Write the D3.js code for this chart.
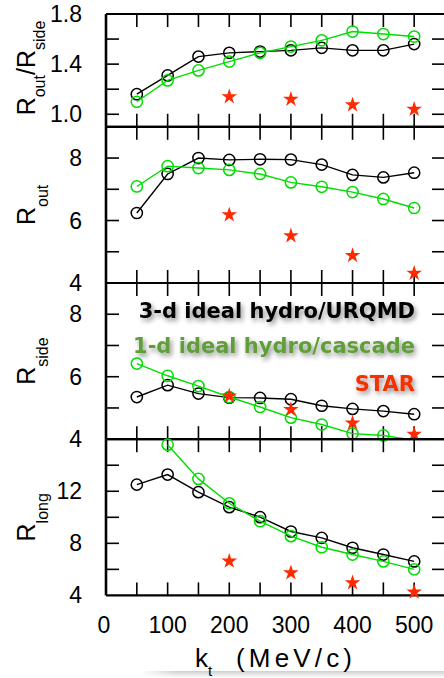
<!DOCTYPE html>
<html>
<head>
<meta charset="utf-8">
<script src="https://cdn.jsdelivr.net/npm/d3@7/dist/d3.min.js"></script>
<style>
  html, body { margin: 0; padding: 0; background: #fff; }
  svg { display: block; }
  .tick-label { font-family: "Liberation Sans", Arial, sans-serif; font-size: 23px; fill: #000; }
  .title { font-family: "Liberation Sans", Arial, sans-serif; fill: #000; }
  .legend { font-family: "DejaVu Sans", Verdana, sans-serif; font-weight: bold; font-size: 21px; }
</style>
</head>
<body>
<svg id="chart" width="444" height="678"></svg>
<script>
// Pair momentum bins (MeV/c)
const kt = [50, 100, 150, 200, 250, 300, 350, 400, 450, 500];
const starKt = [200, 300, 400, 500];

// R_out / R_side
const ratioHydro3d = [1.16, 1.31, 1.46, 1.49, 1.50, 1.51, 1.53, 1.51, 1.51, 1.56];
const ratioHydro1d = [1.10, 1.27, 1.35, 1.42, 1.49, 1.54, 1.59, 1.66, 1.64, 1.62];
const ratioStar    = [1.14, 1.12, 1.075, 1.04];

// R_out (fm)
const routHydro3d = [6.24, 7.49, 8.00, 7.94, 7.96, 7.95, 7.79, 7.46, 7.38, 7.53];
const routHydro1d = [7.09, 7.74, 7.68, 7.62, 7.49, 7.22, 7.08, 6.91, 6.69, 6.40];
const routStar    = [6.18, 5.51, 4.88, 4.31];

// R_side (fm)
const rsideHydro3d = [5.35, 5.73, 5.46, 5.33, 5.32, 5.28, 5.07, 4.97, 4.90, 4.80];
const rsideHydro1d = [6.42, 6.03, 5.70, 5.35, 5.03, 4.69, 4.47, 4.18, 4.12, 3.97];
const rsideStar    = [5.38, 4.95, 4.52, 4.16];

// R_long (fm)
const rlongHydro3d = [12.51, 13.28, 11.93, 10.78, 10.01, 8.91, 8.42, 7.66, 7.14, 6.61];
const rlongHydro1d = [null, 15.58, 12.95, 11.08, 9.70, 8.55, 7.70, 7.14, 6.61, 6.00];
const rlongStar    = [6.63, 5.74, 4.97, 4.25];

// Axis ticks and labels
const xTicks = [50, 100, 150, 200, 250, 300, 350, 400, 450, 500];
const xTickLabels = [0, 100, 200, 300, 400, 500];
const legendLabels = ["3-d ideal hydro/URQMD", "1-d ideal hydro/cascade", "STAR"];

const panels = [
  { name: "ratio", domain: [0.9, 1.8], ticks: [1.0, 1.2, 1.4, 1.6], labels: [1.0, 1.4, 1.8], fmt: d3.format(".1f"),
    title: [["R", 0], ["out", 1], ["/", 0], ["R", 0], ["side", 1]], a: ratioHydro3d, b: ratioHydro1d, s: ratioStar },
  { name: "rout", domain: [4, 9], ticks: [5, 6, 7, 8], labels: [4, 6, 8], fmt: d3.format("d"),
    title: [["R", 0], ["out", 1]], a: routHydro3d, b: routHydro1d, s: routStar },
  { name: "rside", domain: [4, 9], ticks: [5, 6, 7, 8], labels: [4, 6, 8], fmt: d3.format("d"),
    title: [["R", 0], ["side", 1]], a: rsideHydro3d, b: rsideHydro1d, s: rsideStar },
  { name: "rlong", domain: [4, 16], ticks: [6, 8, 10, 12, 14], labels: [4, 8, 12], fmt: d3.format("d"),
    title: [["R", 0], ["long", 1]], a: rlongHydro3d, b: rlongHydro1d, s: rlongStar }
];

const svg = d3.select("#chart");
const left = 106, right = 445;
const panelTops = [14, 126.8, 283, 439.2];
const panelBottoms = [126.8, 283, 439.2, 595.4];

const x = d3.scaleLinear().domain([0, 550]).range([left, right]);

const BLACK = "#000";
const GREEN = "#00dd00";
const RED = "#ff2a00";

const defs = svg.append("defs");
const shadow = defs.append("filter").attr("id", "txtShadow")
  .attr("x", "-10%").attr("y", "-40%").attr("width", "125%").attr("height", "190%");
shadow.append("feDropShadow").attr("dx", 2).attr("dy", 3).attr("stdDeviation", 2.6)
  .attr("flood-color", "#000").attr("flood-opacity", 0.45);

// bottom page shade
const shade = defs.append("linearGradient").attr("id", "shade").attr("x1", 0).attr("y1", 0).attr("x2", 0).attr("y2", 1);
shade.append("stop").attr("offset", "0%").attr("stop-color", "#cfcfcf");
shade.append("stop").attr("offset", "100%").attr("stop-color", "#ffffff");
const shadeMask = defs.append("linearGradient").attr("id", "shadeX").attr("x1", 0).attr("y1", 0).attr("x2", 1).attr("y2", 0);
shadeMask.append("stop").attr("offset", "0%").attr("stop-color", "#fff").attr("stop-opacity", 0);
shadeMask.append("stop").attr("offset", "12%").attr("stop-color", "#fff").attr("stop-opacity", 1);
shadeMask.append("stop").attr("offset", "100%").attr("stop-color", "#fff").attr("stop-opacity", 1);
defs.append("mask").attr("id", "shadeMask").append("rect")
  .attr("x", 140).attr("y", 668).attr("width", 304).attr("height", 10).attr("fill", "url(#shadeX)");
svg.append("rect").attr("x", 140).attr("y", 671).attr("width", 304).attr("height", 7)
  .attr("fill", "url(#shade)").attr("mask", "url(#shadeMask)");

const star = d3.symbol().type(d3.symbolStar).size(76);

panels.forEach((p, i) => {
  const top = panelTops[i], bottom = panelBottoms[i];
  const y = d3.scaleLinear().domain(p.domain).range([bottom, top]);
  const g = svg.append("g");

  defs.append("clipPath").attr("id", "clip-" + p.name)
    .append("rect").attr("x", left).attr("y", top).attr("width", right - left).attr("height", bottom - top);

  // tick marks on all four sides
  const tk = g.append("g").attr("stroke", "#000").attr("stroke-width", 1.6);
  xTicks.forEach(v => {
    tk.append("line").attr("x1", x(v)).attr("x2", x(v)).attr("y1", top).attr("y2", top + 13);
    tk.append("line").attr("x1", x(v)).attr("x2", x(v)).attr("y1", bottom).attr("y2", bottom - 13);
  });
  p.ticks.forEach(v => {
    tk.append("line").attr("x1", left).attr("x2", left + 13).attr("y1", y(v)).attr("y2", y(v));
    tk.append("line").attr("x1", right).attr("x2", right - 13).attr("y1", y(v)).attr("y2", y(v));
  });

  // frame
  g.append("line").attr("x1", left).attr("x2", right).attr("y1", top).attr("y2", top)
    .attr("stroke", "#000").attr("stroke-width", 2.2);
  g.append("line").attr("x1", left).attr("x2", right).attr("y1", bottom).attr("y2", bottom)
    .attr("stroke", "#000").attr("stroke-width", 2.2);
  g.append("line").attr("x1", left).attr("x2", left).attr("y1", top).attr("y2", bottom)
    .attr("stroke", "#000").attr("stroke-width", 2.6);

  // y tick labels
  g.append("g").selectAll("text").data(p.labels).join("text")
    .attr("class", "tick-label")
    .attr("x", 82).attr("y", d => y(d))
    .attr("text-anchor", "end").attr("dominant-baseline", "central")
    .text(d => p.fmt(d));

  // y title, rotated
  const cy = i === 0 ? 68 : (top + bottom) / 2;
  const t = g.append("text").attr("class", "title")
    .attr("transform", `translate(35,${cy}) rotate(-90)`)
    .attr("text-anchor", "middle");
  let shifted = false;
  p.title.forEach(([txt, sub]) => {
    const sp = t.append("tspan").text(txt);
    const shift = i === 0 ? 10 : 13;
    if (sub && !shifted) { sp.attr("dy", shift).attr("font-size", 16); shifted = true; }
    else if (!sub && shifted) { sp.attr("dy", -shift).attr("font-size", 25); shifted = false; }
    else sp.attr("font-size", sub ? 16 : 25);
  });

  // series
  const plot = g.append("g");
  const drawSeries = (vals, color) => {
    const pts = kt.map((k, j) => [k, vals[j]]);
    const line = d3.line().defined(d => d[1] != null).x(d => x(d[0])).y(d => y(d[1]));
    plot.append("path").datum(pts).attr("d", line)
      .attr("clip-path", `url(#clip-${p.name})`)
      .attr("fill", "none").attr("stroke", color).attr("stroke-width", 1.4);
    plot.append("g").selectAll("circle")
      .data(pts.filter(d => d[1] != null && d[1] >= p.domain[0] && d[1] <= p.domain[1]))
      .join("circle")
      .attr("cx", d => x(d[0])).attr("cy", d => y(d[1])).attr("r", 5.6)
      .attr("fill", "none").attr("stroke", color).attr("stroke-width", 1.5);
  };
  drawSeries(p.a, BLACK);
  drawSeries(p.b, GREEN);
  plot.append("g").selectAll("path")
    .data(starKt.map((k, j) => [k, p.s[j]]))
    .join("path")
    .attr("d", star)
    .attr("transform", d => `translate(${x(d[0])},${y(d[1])})`)
    .attr("fill", RED);
});

// x tick labels
svg.append("g").selectAll("text").data(xTickLabels).join("text")
  .attr("class", "tick-label")
  .attr("x", d => x(d) - (d === 0 ? 2 : 0)).attr("y", 633)
  .attr("text-anchor", "middle")
  .text(d => d);

// x title
const xt = svg.append("text").attr("class", "title")
  .attr("x", 195).attr("y", 667).attr("font-size", 26);
xt.append("tspan").text("k");
xt.append("tspan").text("t").attr("font-size", 15).attr("dy", 9);
svg.append("text").attr("class", "title")
  .attr("x", 236).attr("y", 667).attr("font-size", 26)
  .attr("textLength", 116).attr("lengthAdjust", "spacing")
  .text("(MeV/c)");

// legend
const lg = svg.append("g").attr("class", "legend").attr("text-anchor", "end").attr("filter", "url(#txtShadow)");
const legendColors = ["#000", "#5e9e38", "#f43000"];
const legendY = [318, 353, 391];
legendLabels.forEach((txt, j) => {
  lg.append("text").attr("x", 415).attr("y", legendY[j]).attr("fill", legendColors[j]).text(txt);
});
</script>
</body>
</html>
